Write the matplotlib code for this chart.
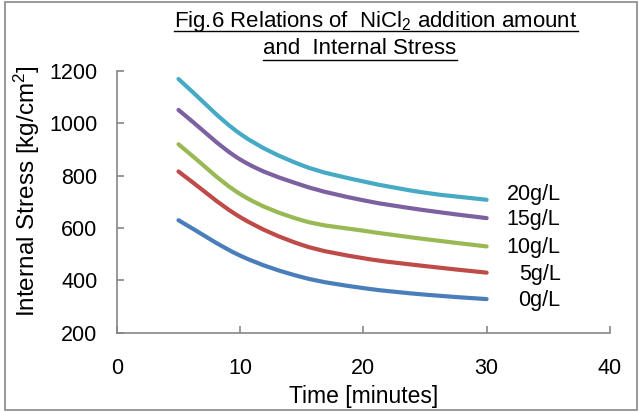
import numpy as np
import matplotlib.pyplot as plt
from matplotlib.path import Path
from matplotlib.patches import PathPatch, Rectangle

plt.rcParams['font.family'] = ['Liberation Sans', 'DejaVu Sans']
plt.rcParams['mathtext.fontset'] = 'custom'
plt.rcParams['mathtext.rm'] = 'Liberation Sans'
plt.rcParams['mathtext.it'] = 'Liberation Sans:italic'

# data
time = [5, 10, 15, 20, 25, 30]
labels = ['0g/L', '5g/L', '10g/L', '15g/L', '20g/L']
stress = {
    '0g/L':  [630, 495, 413, 371, 346, 329],
    '5g/L':  [816, 642, 536, 485, 455, 430],
    '10g/L': [920, 730, 630, 590, 558, 530],
    '15g/L': [1051, 862, 764, 706, 668, 638],
    '20g/L': [1169, 960, 840, 778, 735, 708],
}
colors = ['#4A7EBB', '#BE4B48', '#98B954', '#7D60A0', '#46AAC5']
FS = 15.5


def smooth_path(x, y):
    # smoothed line through the points, drawn as cubic bezier segments
    x = np.asarray(x, float)
    y = np.asarray(y, float)
    n = len(x)
    m = np.empty(n)
    m[0] = (y[1] - y[0]) / (x[1] - x[0])
    m[-1] = (y[-1] - y[-2]) / (x[-1] - x[-2])
    m[1:-1] = (y[2:] - y[:-2]) / (x[2:] - x[:-2])
    verts = [(x[0], y[0])]
    codes = [Path.MOVETO]
    for i in range(n - 1):
        h = (x[i + 1] - x[i]) / 3
        verts += [(x[i] + h, y[i] + h * m[i]),
                  (x[i + 1] - h, y[i + 1] - h * m[i + 1]),
                  (x[i + 1], y[i + 1])]
        codes += [Path.CURVE4] * 3
    return Path(verts, codes)


fig = plt.figure(figsize=(6.42, 4.12), dpi=100)
fig.patches.append(Rectangle((0.008, 0.005), 0.984, 0.99, transform=fig.transFigure,
                             fill=False, edgecolor='#888888', lw=1.2))
ax = fig.add_axes([0.182, 0.192, 0.768, 0.636])

for name, c in zip(labels, colors):
    p = PathPatch(smooth_path(time, stress[name]), fill=False, edgecolor=c,
                  lw=3, capstyle='round', joinstyle='round')
    ax.add_patch(p)
    off = 4 if name == '20g/L' else -1
    ax.annotate(name, xy=(36, stress[name][-1]), xytext=(0, off), textcoords='offset points',
                ha='right', va='center', fontsize=FS)

ax.set_xlim(0, 40)
ax.set_ylim(200, 1200)
ax.set_xticks([0, 10, 20, 30, 40])
ax.set_yticks([200, 400, 600, 800, 1000, 1200])
for s in ['top', 'right']:
    ax.spines[s].set_visible(False)
for s in ['left', 'bottom']:
    ax.spines[s].set_color('#868686')
    ax.spines[s].set_linewidth(1.2)
ax.tick_params(direction='in', length=5, width=1.2, color='#868686', labelsize=FS)
ax.tick_params(axis='y', pad=14)
ax.tick_params(axis='x', pad=18)

ax.set_xlabel('Time [minutes]', fontsize=16.5)
ax.xaxis.set_label_coords(0.5, -0.2)
ax.set_ylabel('Internal Stress [kg/cm$^2$]', fontsize=17.5)
ax.yaxis.set_label_coords(-0.152, 0.54)

t1 = fig.text(376 / 642, 1 - 21 / 412, 'Fig.6 Relations of  NiCl$_2$ addition amount',
              ha='center', va='center', fontsize=16)
t2 = fig.text(360 / 642, 1 - 49 / 412, 'and  Internal Stress',
              ha='center', va='center', fontsize=16)

# underline the title lines
fig.canvas.draw()
r = fig.canvas.get_renderer()
for t, yb in [(t1, 31), (t2, 60)]:
    bb = t.get_window_extent(r)
    fig.add_artist(plt.Line2D([bb.x0 / 642, bb.x1 / 642], [1 - yb / 412, 1 - yb / 412],
                              transform=fig.transFigure, color='black', lw=1.0))

fig.savefig('out.png', dpi=100)
